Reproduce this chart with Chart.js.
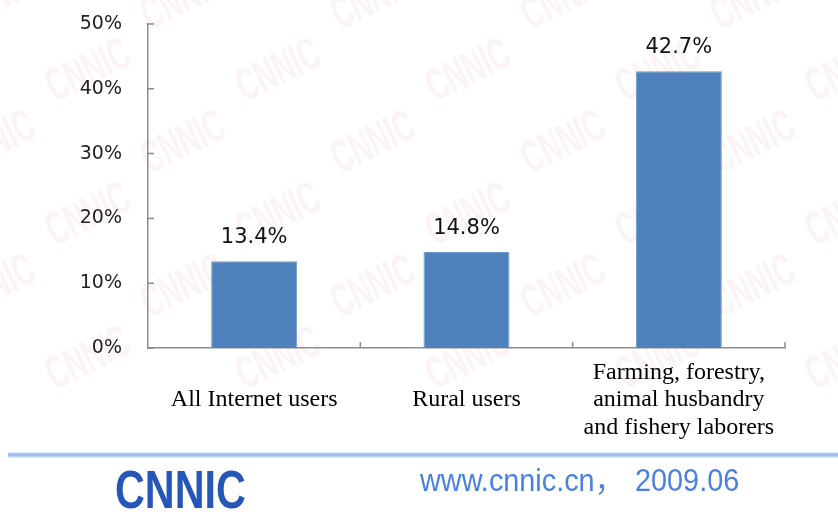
<!DOCTYPE html>
<html>
<head>
<meta charset="utf-8">
<script src="https://cdn.jsdelivr.net/npm/chart.js@4/dist/chart.umd.min.js"></script>
<style>
  body { margin: 0; background: #fff; width: 838px; height: 512px; overflow: hidden; position: relative; }
  #wrap { position: absolute; left: 0; top: 0; width: 838px; height: 512px; }
  #band { position: absolute; left: 8px; right: 0; top: 452px; height: 6px;
          background: linear-gradient(to bottom, #e6edfa, #9bb8ea 40%, #a9c2ee 65%, #eef3fc); }
  #logo { position: absolute; left: 115px; top: 459px; font: bold 53px "Liberation Sans", Arial, sans-serif;
          color: #2556b8; transform: scaleX(0.78); transform-origin: left top; }
  .site { position: absolute; top: 463px; font-family: "Liberation Sans", "Noto Sans CJK SC", sans-serif;
          font-size: 31px; line-height: 36px; height: 36px;
          color: #4a80e0; transform: scaleX(0.93); transform-origin: left top; white-space: nowrap; }
</style>
</head>
<body>
<div id="wrap"><canvas id="barChart" width="838" height="512"></canvas></div>
<div id="band"></div>
<div id="logo">CNNIC</div>
<div class="site" style="left: 420px;">www.cnnic.cn，</div>
<div class="site" style="left: 635px;">2009.06</div>
<script>
const categories = [
    'All Internet users',
    'Rural users',
    ['Farming, forestry,', 'animal husbandry', 'and fishery laborers']
];
const shares = [13.4, 14.8, 42.7];
const yTicks = [0, 10, 20, 30, 40, 50];

// faint rotated CNNIC marks behind the plot
const watermark = {
    id: 'watermark',
    beforeDraw(chart) {
        const ctx = chart.ctx;
        ctx.save();
        ctx.fillStyle = 'rgba(225, 165, 178, 0.13)';
        ctx.font = 'bold 46px "Liberation Sans", Arial, sans-serif';
        for (let row = 0; row < 6; row++) {
            for (let col = 0; col < 6; col++) {
                const x = col * 190 + (row % 2) * 95 - 40;
                const y = row * 72 + 30;
                ctx.save();
                ctx.translate(x, y);
                ctx.rotate(-0.45);
                ctx.scale(0.6, 1);
                ctx.fillText('CNNIC', 0, 0);
                ctx.restore();
            }
        }
        ctx.restore();
    }
};

// short inward tick marks on both axes
const axisTicks = {
    id: 'axisTicks',
    afterDraw(chart) {
        const ctx = chart.ctx;
        const x = chart.scales.x, y = chart.scales.y;
        ctx.save();
        ctx.strokeStyle = '#8c8c8c';
        ctx.lineWidth = 1.5;
        ctx.beginPath();
        yTicks.forEach(v => {
            const py = y.getPixelForValue(v);
            ctx.moveTo(x.left, py);
            ctx.lineTo(x.left + 6, py);
        });
        const step = (x.right - x.left) / categories.length;
        for (let i = 1; i <= categories.length; i++) {
            const px = x.left + step * i;
            ctx.moveTo(px, y.bottom);
            ctx.lineTo(px, y.bottom - 6);
        }
        ctx.stroke();
        ctx.restore();
    }
};

const valueLabels = {
    id: 'valueLabels',
    afterDatasetsDraw(chart) {
        const ctx = chart.ctx;
        ctx.save();
        ctx.fillStyle = '#111';
        ctx.font = '21px "DejaVu Sans", Verdana, sans-serif';
        ctx.textAlign = 'center';
        ctx.textBaseline = 'alphabetic';
        chart.getDatasetMeta(0).data.forEach((bar, i) => {
            ctx.fillText(shares[i].toFixed(1) + '%', bar.x, bar.y - 18);
        });
        ctx.restore();
    }
};

new Chart(document.getElementById('barChart'), {
    type: 'bar',
    data: {
        labels: categories,
        datasets: [{
            data: shares,
            backgroundColor: '#4f81bd',
            borderColor: '#6f99cc',
            borderWidth: 1,
            categoryPercentage: 1,
            barPercentage: 0.405
        }]
    },
    options: {
        responsive: false,
        animation: false,
        layout: { padding: { top: 24, right: 53, left: 0, bottom: 0 } },
        plugins: {
            legend: { display: false },
            tooltip: { enabled: false }
        },
        scales: {
            x: {
                grid: { display: false, drawTicks: false },
                border: { color: '#8c8c8c', width: 1.5 },
                ticks: {
                    color: '#000',
                    padding: 25,
                    crossAlign: 'center',
                    maxRotation: 0,
                    font: { family: '"Liberation Serif", "Times New Roman", serif', size: 24, lineHeight: 1.13 }
                },
                afterFit(scale) { scale.height = 164; }
            },
            y: {
                min: 0,
                max: 50,
                grid: { display: false, drawTicks: false },
                border: { color: '#8c8c8c', width: 1.5 },
                ticks: {
                    stepSize: 10,
                    color: '#222',
                    padding: 26,
                    font: { family: '"DejaVu Sans", Verdana, sans-serif', size: 19 },
                    callback: v => v + '%'
                },
                afterFit(scale) {
                    scale.width = 148;
                    scale.paddingTop = 0;
                    scale.paddingBottom = 0;
                }
            }
        }
    },
    plugins: [watermark, axisTicks, valueLabels]
});
</script>
</body>
</html>
